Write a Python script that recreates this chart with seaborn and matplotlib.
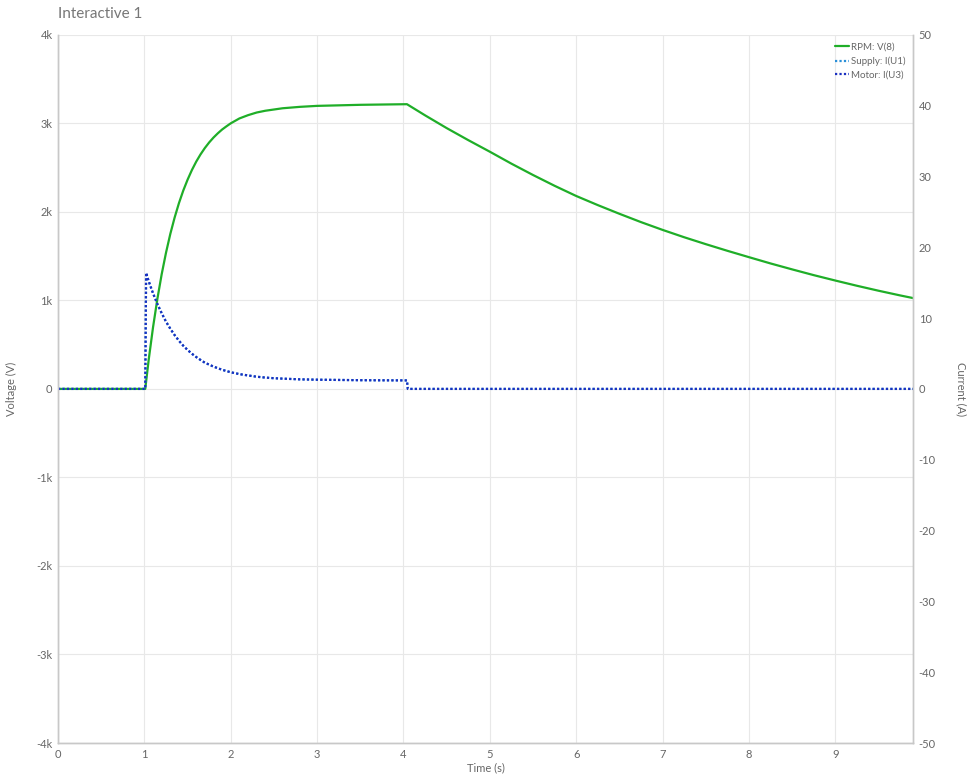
import numpy as np
import pandas as pd
import seaborn as sns
import matplotlib
matplotlib.use('Agg')
import matplotlib.pyplot as plt

# valores
t_rpm = [0, 1.01, 1.05, 1.1, 1.15, 1.2, 1.25, 1.3, 1.35, 1.4, 1.45, 1.5, 1.55, 1.6, 1.65,
         1.7, 1.75, 1.8, 1.85, 1.9, 1.95, 2.0, 2.1, 2.2, 2.3, 2.4, 2.6, 2.8, 3.0, 3.5, 4.04,
         4.25, 4.5, 4.75, 5.0, 5.25, 5.5, 5.75, 6.0, 6.25, 6.5, 6.75, 7.0, 7.25, 7.5, 7.75,
         8.0, 8.25, 8.5, 8.75, 9.0, 9.25, 9.5, 9.75, 9.9]
rpm = [0, 0, 330, 695, 1014, 1294, 1537, 1750, 1935, 2098, 2240, 2363, 2472, 2567, 2649,
       2721, 2784, 2839, 2887, 2930, 2966, 3000, 3055, 3092, 3122, 3142, 3170, 3186, 3197, 3209, 3216,
       3090, 2946, 2810, 2679, 2544, 2416, 2294, 2179, 2076, 1978, 1884, 1796, 1713, 1635, 1560,
       1488, 1417, 1350, 1285, 1224, 1165, 1109, 1056, 1026]

t_cur = [0, 1.01, 1.02, 1.05, 1.1, 1.15, 1.2, 1.25, 1.3, 1.35, 1.4, 1.45, 1.5, 1.55, 1.6,
         1.65, 1.7, 1.75, 1.8, 1.9, 2.0, 2.1, 2.2, 2.3, 2.4, 2.5, 2.6, 2.8, 3.0, 3.5, 4.04,
         4.05, 9.9]
supply = [0, 0, 16.4, 15.2, 13.5, 12.0, 10.7, 9.5, 8.5, 7.6, 6.8, 6.1, 5.5, 4.97, 4.5,
          4.09, 3.7, 3.43, 3.15, 2.7, 2.35, 2.09, 1.9, 1.72, 1.6, 1.51, 1.45, 1.35, 1.3, 1.23, 1.2,
          0, 0]
motor = [0, 0, 16.4, 15.2, 13.5, 12.0, 10.7, 9.5, 8.5, 7.6, 6.8, 6.1, 5.5, 4.97, 4.5,
         4.09, 3.7, 3.43, 3.15, 2.7, 2.35, 2.09, 1.9, 1.72, 1.6, 1.51, 1.45, 1.35, 1.3, 1.23, 1.2,
         0, 0]

v_ticks = [-4000, -3000, -2000, -1000, 0, 1000, 2000, 3000, 4000]
v_labels = ['-4k', '-3k', '-2k', '-1k', '0', '1k', '2k', '3k', '4k']
i_ticks = [-50, -40, -30, -20, -10, 0, 10, 20, 30, 40, 50]
x_ticks = [0, 1, 2, 3, 4, 5, 6, 7, 8, 9]

sns.set_style('white')
plt.rcParams['font.family'] = ['Lato', 'DejaVu Sans']
plt.rcParams['axes.unicode_minus'] = False

gris = '#666666'
fig = plt.figure(figsize=(9.75, 7.8), dpi=100)
ax = fig.add_axes([0.0595, 0.0474, 0.877, 0.908])
ax2 = ax.twinx()

df_rpm = pd.DataFrame({'t': t_rpm, 'v': rpm})
df_cur = pd.DataFrame({'t': t_cur, 'supply': supply, 'motor': motor})

sns.lineplot(data=df_rpm, x='t', y='v', ax=ax, color='#1fae28', linewidth=1.6,
             label='RPM: V(8)', legend=False, sort=False)
sns.lineplot(data=df_cur, x='t', y='supply', ax=ax2, color='#2a8fd8', linewidth=1.6,
             label='Supply: I(U1)', legend=False, sort=False)
sns.lineplot(data=df_cur, x='t', y='motor', ax=ax2, color='#1a2fc0', linewidth=1.6,
             label='Motor: I(U3)', legend=False, sort=False)
ax2.lines[0].set_dashes((1, 1))
ax2.lines[1].set_dashes((1, 1))

ax.set_xlim(0, 9.9)
ax.set_ylim(-4000, 4000)
ax2.set_ylim(-50, 50)
ax.set_xticks(x_ticks)
ax.set_yticks(v_ticks)
ax.set_yticklabels(v_labels)
ax2.set_yticks(i_ticks)

ax.grid(True, color='#e8e8e8', linewidth=0.8)
ax.set_axisbelow(True)
for a in (ax, ax2):
    a.tick_params(length=0, labelsize=8, colors=gris, pad=4)
    for s in ['left', 'right', 'bottom']:
        a.spines[s].set_color('#c8c8c8')
        a.spines[s].set_linewidth(1.0)
    a.spines['top'].set_visible(False)

ax.set_xlabel('Time (s)', fontsize=8, color=gris, labelpad=2)
ax.set_ylabel('Voltage (V)', fontsize=8, color=gris, labelpad=14)
ax2.set_ylabel('Current (A)', fontsize=8, color=gris, rotation=270, labelpad=22)

fig.text(0.0595, 0.982, 'Interactive 1', fontsize=11, color='#777777', va='center')

handles = ax.get_lines()[:1] + ax2.get_lines()[:2]
leg = ax2.legend(handles, [h.get_label() for h in handles], loc='upper right',
                 frameon=False, fontsize=7, handlelength=1.4, handletextpad=0.2,
                 labelspacing=0.5, borderaxespad=0.4)
for txt in leg.get_texts():
    txt.set_color(gris)

fig.savefig('out.png', dpi=100)
